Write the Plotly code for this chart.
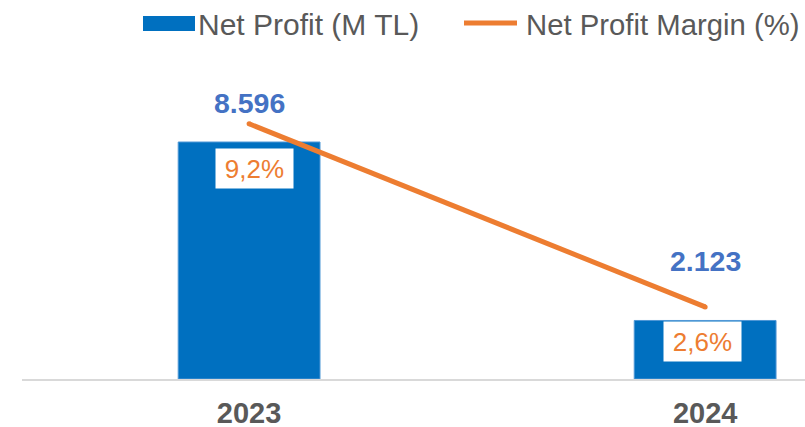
import plotly.graph_objects as go

# ---- data ----
years = ["2023", "2024"]
net_profit = [8596, 2123]          # M TL
net_margin = [9.2, 2.6]            # %

profit_labels = [f"{v:,}".replace(",", ".") for v in net_profit]
margin_labels = [f"{v:.1f}%".replace(".", ",") for v in net_margin]

# ---- style ----
BLUE = "#0070C0"
LABEL_BLUE = "#4472C4"
ORANGE = "#ED7D31"
GRAY = "#595959"
FONT = "Liberation Sans, Arial, sans-serif"

W, H = 805, 427
ML, MR, MT, MB = 22, 0, 60, 48
PW, PH = W - ML - MR, H - MT - MB


def px_x(px):
    return (px - ML) / PW


def px_y(py):
    return (H - MB - py) / PH


fig = go.Figure()
fig.add_trace(go.Bar(
    x=years, y=net_profit, name="Net Profit (M TL)",
    marker=dict(color=BLUE, line=dict(color="#4f97d6", width=1)),
    width=0.311, yaxis="y", showlegend=False,
))
fig.add_trace(go.Scatter(
    x=years, y=net_margin, name="Net Profit Margin (%)",
    mode="lines+markers",
    line=dict(color=ORANGE, width=5),
    marker=dict(color=ORANGE, size=5),
    yaxis="y2", showlegend=False,
))

annotations = []
value_shift = [39, 59.5]
for i, v in enumerate(net_profit):
    annotations.append(dict(
        x=i, y=v, xref="x", yref="y", text=f"<b>{profit_labels[i]}</b>",
        showarrow=False, yanchor="middle", yshift=value_shift[i],
        font=dict(family=FONT, size=28.5, color=LABEL_BLUE),
    ))

margin_yshift = [-26.5, -21.5]
margin_xshift = [5, -3]
for i, v in enumerate(net_profit):
    annotations.append(dict(
        x=i, y=v, xref="x", yref="y", text=margin_labels[i],
        showarrow=False, yanchor="middle", yshift=margin_yshift[i],
        xshift=margin_xshift[i],
        bgcolor="white", width=77, height=39, borderpad=0,
        font=dict(family=FONT, size=26, color=ORANGE),
    ))

# custom legend
annotations.append(dict(
    x=px_x(196), y=px_y(24), xref="paper", yref="paper",
    text="Net Profit (M TL)", showarrow=False, xanchor="left", yanchor="middle",
    font=dict(family=FONT, size=30, color=GRAY),
))
annotations.append(dict(
    x=px_x(524), y=px_y(24), xref="paper", yref="paper",
    text="Net Profit Margin (%)", showarrow=False, xanchor="left", yanchor="middle",
    font=dict(family=FONT, size=29.3, color=GRAY),
))

shapes = [
    dict(type="rect", xref="paper", yref="paper",
         x0=px_x(143), x1=px_x(195), y0=px_y(31), y1=px_y(16),
         fillcolor=BLUE, line=dict(width=0)),
    dict(type="line", xref="paper", yref="paper",
         x0=px_x(464), x1=px_x(517), y0=px_y(23), y1=px_y(23),
         line=dict(color=ORANGE, width=5)),
]

fig.update_layout(
    width=W, height=H,
    margin=dict(l=ML, r=MR, t=MT, b=MB, pad=0, autoexpand=False),
    paper_bgcolor="white", plot_bgcolor="white",
    font=dict(family=FONT, color=GRAY),
    xaxis=dict(
        type="category", range=[-0.498, 1.219], automargin=False,
        showgrid=False, zeroline=False,
        showline=True, linecolor="#d9d9d9", linewidth=2,
        ticks="", tickfont=dict(family=FONT, size=29, color=GRAY),
        tickprefix="<b>", ticksuffix="</b>", ticklabelstandoff=7,
    ),
    yaxis=dict(range=[0, 11570], visible=False, showgrid=False, automargin=False),
    yaxis2=dict(range=[0, 11.50], overlaying="y", side="right",
                visible=False, showgrid=False, automargin=False),
    annotations=annotations,
    shapes=shapes,
    showlegend=False,
)

fig.write_html(
    "out.html",
    config={"displayModeBar": False},
    post_script="document.body.style.margin='0';document.body.style.overflow='hidden';",
)
